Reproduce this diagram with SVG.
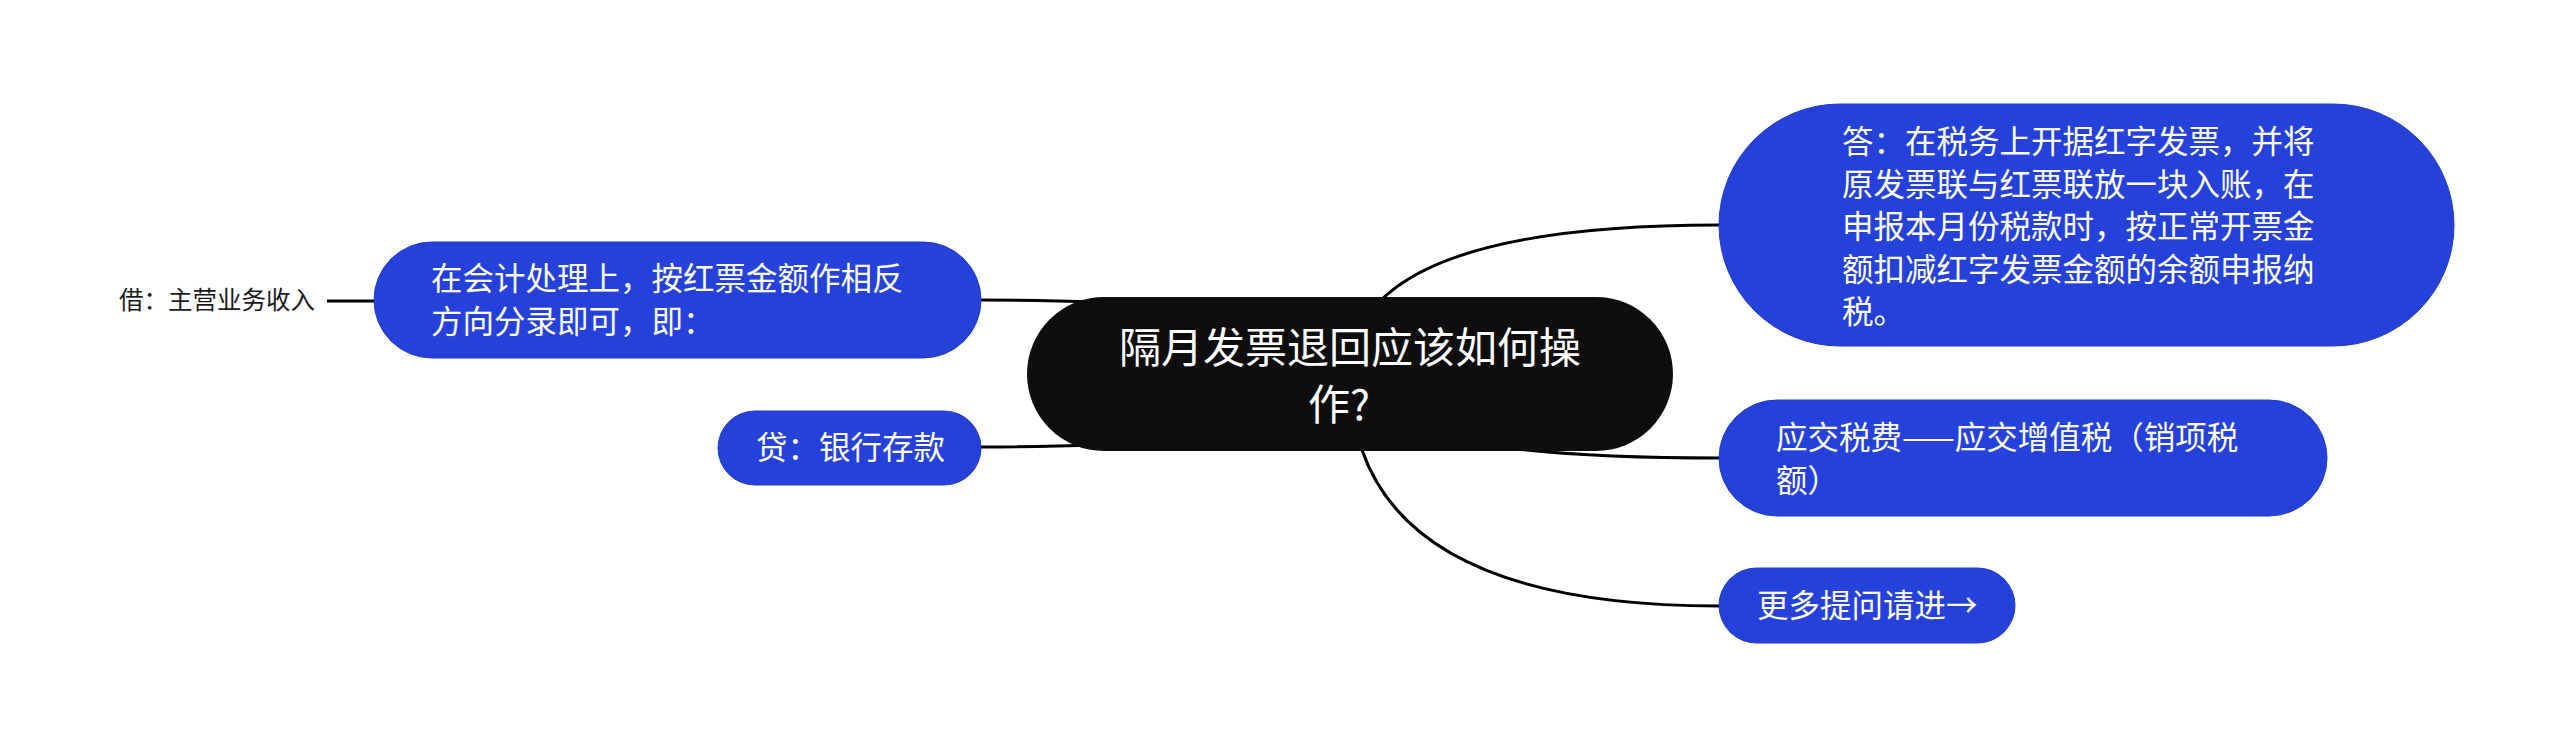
<svg xmlns="http://www.w3.org/2000/svg" width="2560" height="749" viewBox="0 0 2560 749">
<style>
.bg{fill:#ffffff}
.blue{fill:#2442d9;stroke:#2038c8;stroke-width:1}
.dark{fill:#0e0e0e}
.t{font-family:"Noto Sans CJK SC","Noto Sans",sans-serif;fill:#ffffff;font-size:31.5px}
.tc{font-family:"Noto Sans CJK SC","Noto Sans",sans-serif;fill:#ffffff;font-size:42px}
.ts{font-family:"Noto Sans CJK SC","Noto Sans",sans-serif;fill:#1a1a1a;font-size:24.5px}
.c{fill:none;stroke:#000000;stroke-width:3}
</style>
<rect class="bg" x="0" y="0" width="2560" height="749"/>
<g id="connectors">
<path class="c" d="M1350 374 Q1350 225 1719 225"/>
<path class="c" d="M1350 374 Q1350 458 1719 458"/>
<path class="c" d="M1350 374 Q1350 606 1719 606"/>
<path class="c" d="M1350 374 Q1350 300 981 300"/>
<path class="c" d="M1350 374 Q1350 447 981 447"/>
<path class="c" d="M374 301 L327 301"/>
</g>
<g id="root">
<rect class="dark" x="1027" y="297" width="646" height="154" rx="77"/>
<text class="tc" x="1350" y="363" text-anchor="middle">隔月发票退回应该如何操</text>
<text class="tc" x="1339" y="420" text-anchor="middle">作?</text>
</g>
<g id="n-answer">
<rect class="blue" x="1719" y="104" width="735" height="242" rx="121"/>
<text class="t" x="1842" y="153">答：在税务上开据红字发票，并将</text>
<text class="t" x="1842" y="196">原发票联与红票联放一块入账，在</text>
<text class="t" x="1842" y="238">申报本月份税款时，按正常开票金</text>
<text class="t" x="1842" y="281">额扣减红字发票金额的余额申报纳</text>
<text class="t" x="1842" y="323">税。</text>
</g>
<g id="n-tax">
<rect class="blue" x="1719" y="400" width="608" height="116" rx="58"/>
<text class="t" x="1776" y="449">应交税费——应交增值税（销项税</text>
<text class="t" x="1776" y="492">额）</text>
</g>
<g id="n-more">
<rect class="blue" x="1719" y="568" width="296" height="75" rx="37.5"/>
<text class="t" x="1757" y="617">更多提问请进→</text>
</g>
<g id="n-accounting">
<rect class="blue" x="374" y="242" width="607" height="116" rx="58"/>
<text class="t" x="431" y="290">在会计处理上，按红票金额作相反</text>
<text class="t" x="431" y="333">方向分录即可，即：</text>
</g>
<g id="n-credit">
<rect class="blue" x="718" y="411" width="263" height="74" rx="37"/>
<text class="t" x="756" y="459">贷：银行存款</text>
</g>
<g id="n-debit">
<text class="ts" x="119" y="309">借：主营业务收入</text>
</g>
</svg>
